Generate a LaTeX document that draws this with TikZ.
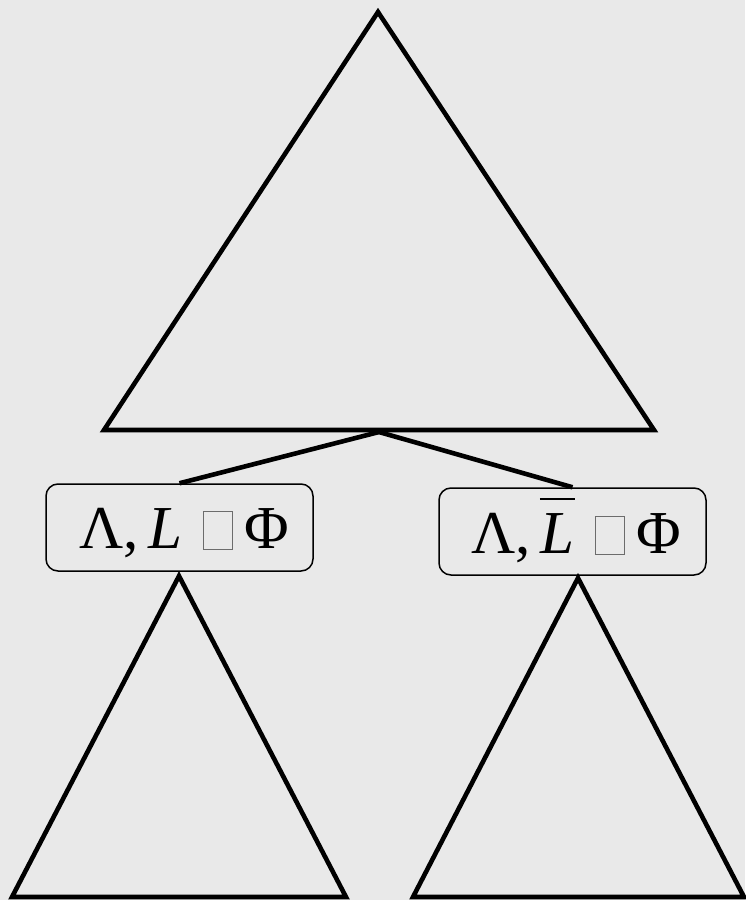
\documentclass[tikz,border=0pt]{standalone}
\usepackage{fontspec}
\setmainfont{Liberation Serif}
\definecolor{bg}{HTML}{E9E9E9}
\newcommand{\graysq}{{\color{gray!85!black}\setlength\fboxrule{1.2pt}\setlength\fboxsep{0pt}\raisebox{-1pt}{\fbox{\rule{0pt}{37pt}\hspace{28pt}}}}}
\newcommand{\barL}{\rlap{\kern-1pt\raisebox{53pt}{\rule{35pt}{2.4pt}}}\textit{L}}
\begin{document}
\begin{tikzpicture}[x=1pt,y=-1pt,
  tri/.style={draw=black,line width=4.6pt,line join=miter},
  conn/.style={draw=black,line width=4.6pt},
  seqbox/.style={draw=black,line width=1.5pt,rounded corners=12pt,minimum width=267pt,minimum height=87pt,inner sep=0pt},
  seqtext/.style={font=\fontsize{61}{63}\selectfont,inner sep=0pt,anchor=base west}]
\fill[bg] (0,0) rectangle (745,900);
\useasboundingbox (0,0) rectangle (745,900);
% top triangle
\coordinate (ta) at (378,12);
\coordinate (tl) at (104,430);
\coordinate (tr) at (654,430);
\coordinate (tb) at (379,432);
\draw[tri] (ta) -- (tl) -- (tr) -- cycle;
% boxes
\node[seqbox] (lbox) at (179.5,527.5) {};
\node[seqtext] (ltext) at (79,548) {Λ,\,\textit{L}\hspace{20pt}\graysq\hspace{11pt}Φ};
\node[seqbox] (rbox) at (572.5,531.5) {};
\node[seqtext] (rtext) at (471,553) {Λ,\,\barL\hspace{20pt}\graysq\hspace{11pt}Φ};
\draw[conn] (tb) -- (lbox.north);
\draw[conn] (tb) -- (rbox.north);
% bottom triangles
\coordinate (la) at (179,576);
\coordinate (ll) at (12,897);
\coordinate (lr) at (346,897);
\draw[tri] (la) -- (ll) -- (lr) -- cycle;
\coordinate (ra) at (578,578);
\coordinate (rl) at (413,897);
\coordinate (rr) at (744,897);
\draw[tri] (ra) -- (rl) -- (rr) -- cycle;
\end{tikzpicture}
\end{document}
